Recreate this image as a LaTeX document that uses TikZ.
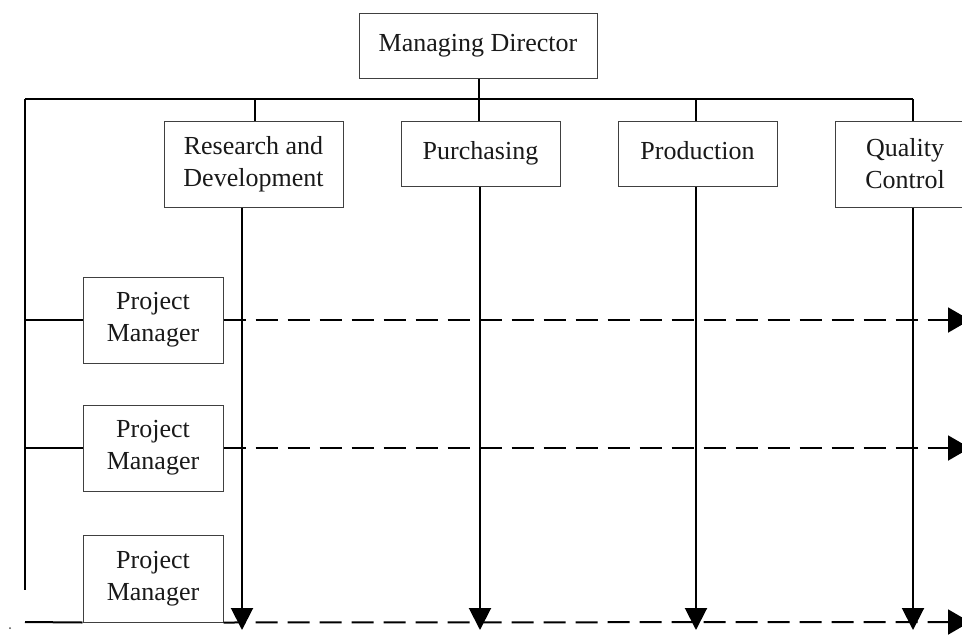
\documentclass[tikz,border=0pt]{standalone}
\usepackage{fontspec}
\setmainfont{Liberation Serif}
\usetikzlibrary{arrows.meta}
\begin{document}
\begin{tikzpicture}[x=1pt,y=-1pt,
  box/.style={draw=black!75,line width=1pt,fill=white,align=center,inner sep=0pt,
    font=\fontsize{26}{32}\selectfont,text=black!90},
  link/.style={line width=2pt,black},
  dashlink/.style={line width=2pt,black,dash pattern=on 22pt off 10pt},
  tipd/.style={-{Triangle[length=22pt,width=22pt]}},
  tipr/.style={-{Triangle[length=22pt,width=25pt]}}]
\useasboundingbox (0,0) rectangle (962,635);
\clip (0,0) rectangle (962,635);
\node[box,minimum width=238pt,minimum height=65pt] (MD) at (478,45.5) {\strut Managing Director};
\node[box,minimum width=179pt,minimum height=86pt] (RD) at (253.5,164) {Research and\\Development};
\node[box,minimum width=159pt,minimum height=65pt] (PU) at (480.5,153.5) {\strut Purchasing};
\node[box,minimum width=159pt,minimum height=65pt] (PR) at (697.5,153.5) {\strut Production};
\node[box,minimum width=140pt,minimum height=86pt] (QC) at (905,164) {Quality\\Control};
\node[box,minimum width=140pt,minimum height=86pt] (PM1) at (153,320) {Project\\Manager};
\node[box,minimum width=140pt,minimum height=86pt] (PM2) at (153,448) {Project\\Manager};
\node[box,minimum width=140pt,minimum height=87pt] (PM3) at (153,578.5) {Project\\Manager};
\coordinate (busL) at (25,99);
\coordinate (busR) at (913,99);
\coordinate (leftEnd) at (25,590);
\coordinate (r1) at (25,320);
\coordinate (r2) at (25,448);
\coordinate (r3) at (25,622);
\coordinate (e1) at (970,320);
\coordinate (e2) at (970,448);
\coordinate (e3) at (970,622);
% top bus
\draw[link] (MD.south -| 479,0) -- (479,99);
\draw[link] (busL) -- (busR);
\draw[link] (255,99) -- (RD.north -| 255,0);
\draw[link] (479,99) -- (PU.north -| 479,0);
\draw[link] (696,99) -- (PR.north -| 696,0);
\draw[link] (busR) -- (QC.north -| busR);
\draw[link] (busL) -- (leftEnd);
% project manager links
\draw[link] (r1) -- (PM1.west);
\draw[link] (r2) -- (PM2.west);
\draw[link] (r3) -- (PM3.south west);
% dashed project lines
\draw[dashlink,tipr] (PM1.east) -- (e1);
\draw[dashlink,tipr] (PM2.east) -- (e2);
\draw[dashlink,tipr] (PM3.south east) -- (e3);
% vertical function arrows
\draw[link,tipd] (RD.south -| 242,0) -- (242,630);
\draw[link,tipd] (PU.south -| 480,0) -- (480,630);
\draw[link,tipd] (PR.south -| 696,0) -- (696,630);
\draw[link,tipd] (QC.south -| 913,0) -- (913,630);
\fill[black!70] (10,628) circle (1pt);
\end{tikzpicture}
\end{document}
